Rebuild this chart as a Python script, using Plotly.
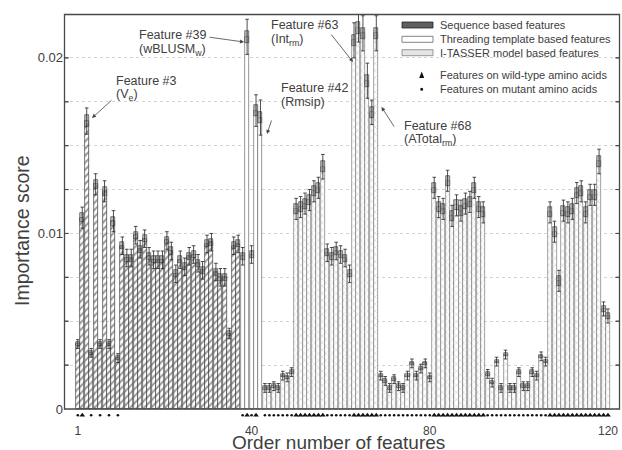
import plotly.graph_objects as go

# ---------------- data ----------------
features = list(range(1, 121))

importance = [
    0.0037, 0.0109, 0.0164, 0.0032, 0.0128, 0.0037, 0.0124, 0.0037, 0.0107, 0.0029,   # 1-10
    0.0093, 0.0086, 0.0086, 0.0099, 0.0091, 0.0097, 0.0087, 0.0085, 0.0085, 0.0085,   # 11-20
    0.0096, 0.0090, 0.0077, 0.0085, 0.0081, 0.0087, 0.0088, 0.0083, 0.0079, 0.0094,   # 21-30
    0.0095, 0.0078, 0.0075, 0.0075, 0.0043, 0.0093, 0.0094,                           # 31-37
    0.0087, 0.0212, 0.0088, 0.0170, 0.0166,                                           # 38-42
    0.0012, 0.0012, 0.0013, 0.0012, 0.0019, 0.0018, 0.0021,                           # 43-49
    0.0114, 0.0115, 0.0117, 0.0119, 0.0124, 0.0126, 0.0138,                           # 50-56
    0.0089, 0.0087, 0.0090, 0.0088, 0.0086, 0.0077,                                   # 57-62
    0.0210, 0.0217, 0.0214, 0.0187, 0.0169, 0.0214,                                   # 63-68
    0.0019, 0.0016, 0.0012, 0.0017, 0.0013, 0.0012, 0.0019, 0.0026, 0.0019, 0.0023,   # 69-78
    0.0026, 0.0018,                                                                   # 79-80
    0.0126, 0.0115, 0.0114, 0.0130, 0.0110, 0.0116, 0.0113, 0.0117, 0.0118, 0.0126,   # 81-90
    0.0115, 0.0112,                                                                   # 91-92
    0.0020, 0.0015, 0.0027, 0.0012, 0.0031, 0.0012, 0.0012, 0.0021, 0.0013, 0.0013,   # 93-102
    0.0021, 0.0019, 0.0030, 0.0027,                                                   # 103-106
    0.0112, 0.0101, 0.0073, 0.0113, 0.0112, 0.0114, 0.0123, 0.0124, 0.0112, 0.0122,   # 107-116
    0.0122, 0.0141, 0.0057, 0.0053,                                                   # 117-120
]

# whisker half-length of the error bars
err = [
    0.00025, 0.0006, 0.00075, 0.00025, 0.0006, 0.00025, 0.0006, 0.00025, 0.0006, 0.00025,
    0.0005, 0.0005, 0.0005, 0.0005, 0.0005, 0.0005, 0.0005, 0.0005, 0.0005, 0.0005,
    0.0005, 0.0005, 0.0005, 0.0005, 0.0005, 0.0005, 0.0005, 0.0005, 0.0005, 0.0005,
    0.0005, 0.0005, 0.0005, 0.0005, 0.0003, 0.0005, 0.0005,
    0.0005, 0.0010, 0.0005, 0.0009, 0.0010,
    0.00025, 0.00025, 0.00025, 0.00025, 0.00025, 0.00025, 0.00025,
    0.0006, 0.0006, 0.0006, 0.0006, 0.0006, 0.0006, 0.0007,
    0.0005, 0.0005, 0.0005, 0.0005, 0.0005, 0.0005,
    0.0010, 0.0008, 0.0010, 0.0010, 0.0007, 0.0010,
    0.00025, 0.00025, 0.00025, 0.00025, 0.00025, 0.00025, 0.00025, 0.00025, 0.00025, 0.00025,
    0.00025, 0.00025,
    0.0006, 0.0006, 0.0006, 0.0006, 0.0006, 0.0006, 0.0006, 0.0006, 0.0006, 0.0006,
    0.0006, 0.0006,
    0.00025, 0.00025, 0.00025, 0.00025, 0.00025, 0.00025, 0.00025, 0.00025, 0.00025, 0.00025,
    0.00025, 0.00025, 0.00025, 0.00025,
    0.0006, 0.0006, 0.0006, 0.0006, 0.0006, 0.0006, 0.0006, 0.0006, 0.0006, 0.0006,
    0.0006, 0.0007, 0.0004, 0.0004,
]

# half-height of the small box drawn round each bar top
box = [
    0.0001, 0.00025, 0.00033, 0.0001, 0.00025, 0.0001, 0.00025, 0.0001, 0.00025, 0.0001,
    0.0002, 0.0002, 0.0002, 0.0002, 0.0002, 0.0002, 0.0002, 0.0002, 0.0002, 0.0002,
    0.0002, 0.0002, 0.0002, 0.0002, 0.0002, 0.0002, 0.0002, 0.0002, 0.0002, 0.0002,
    0.0002, 0.0002, 0.0002, 0.0002, 0.00012, 0.0002, 0.0002,
    0.0002, 0.00033, 0.0002, 0.00033, 0.00033,
    0.0001, 0.0001, 0.0001, 0.0001, 0.0001, 0.0001, 0.0001,
    0.00028, 0.00028, 0.00028, 0.00028, 0.00028, 0.00028, 0.0003,
    0.0002, 0.0002, 0.0002, 0.0002, 0.0002, 0.0002,
    0.00033, 0.00033, 0.00033, 0.00033, 0.00033, 0.00033,
    0.0001, 0.0001, 0.0001, 0.0001, 0.0001, 0.0001, 0.0001, 0.0001, 0.0001, 0.0001,
    0.0001, 0.0001,
    0.00028, 0.00028, 0.00028, 0.00028, 0.00028, 0.00028, 0.00028, 0.00028, 0.00028, 0.00028,
    0.00028, 0.00028,
    0.0001, 0.0001, 0.0001, 0.0001, 0.0001, 0.0001, 0.0001, 0.0001, 0.0001, 0.0001,
    0.0001, 0.0001, 0.0001, 0.0001,
    0.00028, 0.00028, 0.00028, 0.00028, 0.00028, 0.00028, 0.00028, 0.00028, 0.00028, 0.00028,
    0.00028, 0.0003, 0.00018, 0.00018,
]

seq_ids = list(range(1, 38))      # sequence based features
thr_ids = list(range(38, 43))     # threading template based features
its_ids = list(range(43, 121))    # I-TASSER model based features

wild_ids = [2, 39, 41] + list(range(50, 57)) + list(range(63, 69)) + list(range(81, 93)) + list(range(107, 121))
mut_ids = [1, 4, 6, 8, 10, 38, 40] + list(range(43, 50)) + list(range(57, 63)) + list(range(69, 81)) + list(range(93, 107))

x_ticks = [1, 40, 80, 120]
y_ticks = [0, 0.0025, 0.005, 0.0075, 0.01, 0.0125, 0.015, 0.0175, 0.02]
y_ticktext = ["0", "", "", "", "0.01", "", "", "", "0.02"]

legend_items = ["Sequence based features", "Threading template based features",
                "I-TASSER model based features"]
legend_marks = ["Features on wild-type amino acids", "Features on mutant amino acids"]

FONT = "Liberation Sans, Arial, Helvetica, sans-serif"
TXT = "#404040"

# geometry in page pixels: frame left/right/top, value-0 line, plot-area bottom
L, R, T, B0, PB = 64, 620, 14, 409, 422
W, H = 622, 450
YMAX = 0.0225
YMIN = -YMAX * (PB - B0) / (B0 - T)


def px(x):
    return (x - L) / (R - L)


def py(y):
    return (PB - y) / (PB - T)


def pick(ids, arr):
    return [arr[i - 1] for i in ids]


fig = go.Figure()

BW = 0.9
fig.add_bar(x=seq_ids, y=pick(seq_ids, importance), width=BW,
            marker=dict(color="white", line=dict(color="#3a3a3a", width=0.7),
                        pattern=dict(shape="/", fgcolor="#333", bgcolor="white",
                                     size=5, solidity=0.4)))
fig.add_bar(x=thr_ids, y=pick(thr_ids, importance), width=BW,
            marker=dict(color="white", line=dict(color="#6a6a6a", width=0.7)))
fig.add_bar(x=its_ids, y=pick(its_ids, importance), width=BW,
            marker=dict(color="white", line=dict(color="#7a7a7a", width=0.7),
                        pattern=dict(shape="x", fgcolor="#a0a0a0", bgcolor="white",
                                     size=5, solidity=0.2)))

# small boxes round the bar tops
fig.add_bar(x=features, y=[2 * b for b in box],
            base=[v - b for v, b in zip(importance, box)], width=BW,
            marker=dict(color="rgba(130,130,130,0.5)", line=dict(color="#333", width=0.6)))

# error whiskers
fig.add_scatter(x=features, y=importance, mode="markers",
                marker=dict(size=1, opacity=0),
                error_y=dict(type="data", array=err, visible=True,
                             color="#222", thickness=0.8, width=1.8))

# wild-type / mutant marks under the zero line
fig.add_scatter(x=wild_ids, y=[-0.00036] * len(wild_ids), mode="markers",
                marker=dict(symbol="triangle-up", size=5, color="#111", line=dict(width=0)))
fig.add_scatter(x=mut_ids, y=[-0.00036] * len(mut_ids), mode="markers",
                marker=dict(symbol="circle", size=2.6, color="#111", line=dict(width=0)))

shapes = []
FR = "#4a4a4a"
# frame as one rectangle in paper coordinates
shapes.append(dict(type="rect", xref="paper", yref="paper",
                   x0=px(L + 0.5), x1=px(R - 0.5), y0=py(B0), y1=py(T + 0.5),
                   fillcolor="rgba(255,255,255,0)", line=dict(color=FR, width=1.3)))
# inside ticks on both sides
for v in y_ticks[1:]:
    yy = py(B0 - v / YMAX * (B0 - T))
    shapes.append(dict(type="rect", xref="paper", yref="paper",
                       x0=px(L + 0.5), x1=px(L + 4.5), y0=yy, y1=yy,
                       fillcolor="rgba(0,0,0,0)", line=dict(color=FR, width=1)))
    shapes.append(dict(type="rect", xref="paper", yref="paper",
                       x0=px(R - 4.5), x1=px(R - 0.5), y0=yy, y1=yy,
                       fillcolor="rgba(0,0,0,0)", line=dict(color=FR, width=1)))

# ---------------- custom legend ----------------
rows = [25, 39.3, 52.7]
rect_styles = [("#5e5e5e", "#222"), ("white", "#666"), ("#e4e4e4", "#808080")]
for yy, (fc, lc) in zip(rows, rect_styles):
    shapes.append(dict(type="rect", xref="paper", yref="paper",
                       x0=px(402), x1=px(433), y0=py(yy + 3), y1=py(yy - 3),
                       fillcolor=fc, line=dict(color=lc, width=0.8)))
tx, ty = 421.7, 75
shapes.append(dict(type="path", xref="paper", yref="paper",
                   path=f"M {px(tx - 2.5)},{py(ty + 3)} L {px(tx + 2.5)},{py(ty + 3)} L {px(tx)},{py(ty - 3.5)} Z",
                   fillcolor="#111", line=dict(width=0)))
dx, dy = 421.7, 89.3
shapes.append(dict(type="circle", xref="paper", yref="paper",
                   x0=px(dx - 1.5), x1=px(dx + 1.5), y0=py(dy + 1.5), y1=py(dy - 1.5),
                   fillcolor="#111", line=dict(width=0)))

annotations = []
for yy, t in zip(rows + [75, 89.3], legend_items + legend_marks):
    annotations.append(dict(x=px(437.5), y=py(yy), xref="paper", yref="paper", text=t,
                            showarrow=False, xanchor="left", yanchor="middle",
                            font=dict(size=11, color=TXT, family=FONT)))

# feature labels
labels = [
    (114, 81, "Feature #3"), (114, 95.5, "(V<sub>e</sub>)"),
    (137, 35, "Feature #39"), (137, 50, "(wBLUSM<sub>w</sub>)"),
    (269, 25, "Feature #63"), (269, 39.5, "(Int<sub>rm</sub>)"),
    (279, 88, "Feature #42"), (279, 102, "(Rmsip)"),
    (401.5, 126, "Feature #68"), (401.5, 140, "(ATotal<sub>rm</sub>)"),
]
for lx, ly, t in labels:
    annotations.append(dict(x=px(lx), y=py(ly), xref="paper", yref="paper", text=t,
                            showarrow=False, xanchor="left", yanchor="middle",
                            font=dict(size=12.5, color=TXT, family=FONT)))

arrows = [((113, 99), (92, 118)), ((208, 37), (244, 42)), ((330, 33), (353, 62)),
          ((272, 119), (267, 134)), ((395, 128), (381.5, 107))]
for (tx0, ty0), (hx, hy) in arrows:
    annotations.append(dict(x=px(hx), y=py(hy), xref="paper", yref="paper",
                            ax=tx0 - hx, ay=ty0 - hy, axref="pixel", ayref="pixel",
                            text="", showarrow=True, arrowhead=2, arrowsize=1,
                            arrowwidth=0.8, arrowcolor="#444"))

# axis titles
annotations.append(dict(x=px(338), y=py(442), xref="paper", yref="paper",
                        text="Order number of features", showarrow=False,
                        xanchor="center", yanchor="middle",
                        font=dict(size=19, color=TXT, family=FONT)))
annotations.append(dict(x=px(22), y=py(231), xref="paper", yref="paper",
                        text="Importance score", showarrow=False, textangle=-90,
                        xanchor="center", yanchor="middle",
                        font=dict(size=19.5, color=TXT, family=FONT)))

fig.update_layout(
    width=W, height=H,
    margin=dict(l=L, r=W - R, t=T, b=H - PB),
    paper_bgcolor="white", plot_bgcolor="white",
    barmode="overlay", bargap=0, showlegend=False,
    font=dict(family=FONT, color=TXT, size=12),
    xaxis=dict(range=[-2.1, 122.7], tickvals=x_ticks, ticks="", showgrid=False,
               zeroline=False, showline=False, ticklabelstandoff=0,
               tickfont=dict(size=12, color=TXT)),
    yaxis=dict(range=[YMIN, YMAX], tickvals=y_ticks, ticktext=y_ticktext,
               ticks="", showgrid=True, gridcolor="#d4d4d4", griddash="dot",
               gridwidth=1, zeroline=False, showline=False,
               tickfont=dict(size=13, color=TXT)),
    shapes=shapes,
    annotations=annotations,
)

fig.write_html("out.html", config={"displayModeBar": False},
               post_script="document.body.style.margin='0px';")
